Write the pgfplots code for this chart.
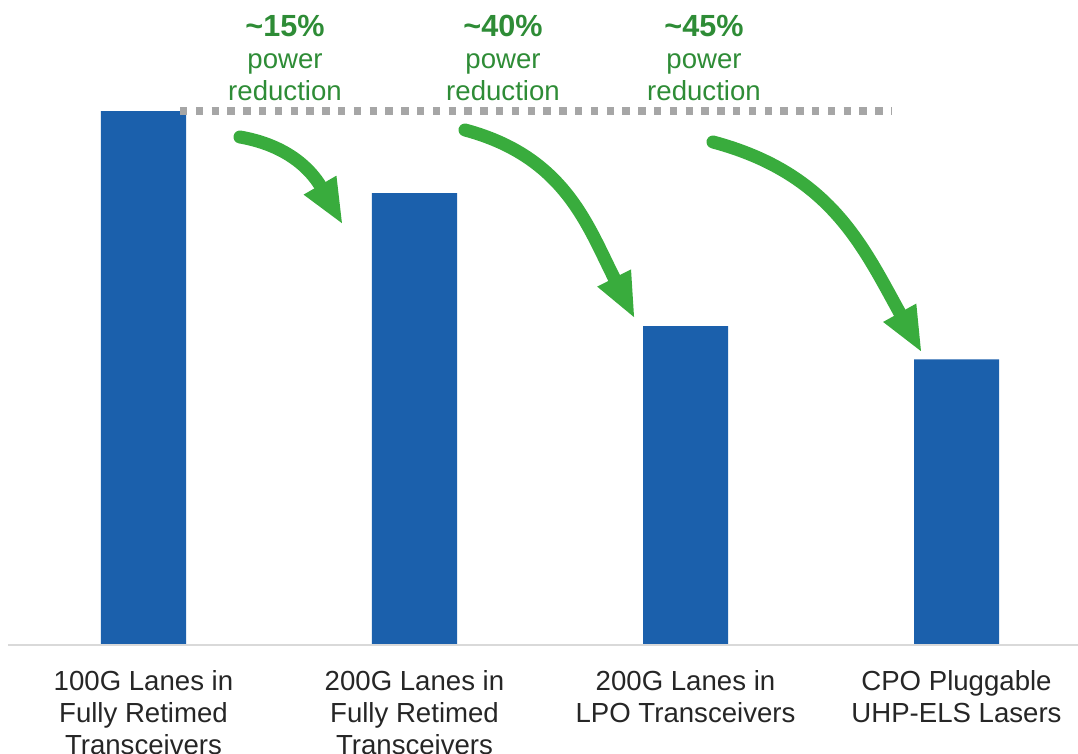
\documentclass[border=0pt]{standalone}
\usepackage{pgfplots}
\pgfplotsset{compat=1.18}
\usepackage{fontspec}
\setmainfont{Liberation Sans}
\usetikzlibrary{arrows.meta}

\definecolor{barblue}{RGB}{27,96,172}
\definecolor{arrowgreen}{RGB}{57,172,61}
\definecolor{textgreen}{RGB}{46,140,54}
\definecolor{dotgray}{RGB}{166,166,166}
\definecolor{basegray}{RGB}{217,217,217}
\definecolor{labelgray}{RGB}{38,38,38}

\begin{document}
\begin{tikzpicture}
% page frame: 539pt x 377pt, axis box sits on the baseline
\path[use as bounding box] (0,-54.5pt) rectangle (539pt,322.5pt);
\begin{axis}[
  at={(0,0)}, anchor=south west,
  scale only axis, width=539pt, height=322.5pt,
  xmin=-0.5295, xmax=3.4483, ymin=0, ymax=120.79,
  ybar, bar width=0.3137,
  axis line style={draw=none},
  ytick=\empty,
  xtick={0,1,2,3},
  xticklabels={{100G Lanes in\\Fully Retimed\\Transceivers},
               {200G Lanes in\\Fully Retimed\\Transceivers},
               {200G Lanes in\\LPO Transceivers},
               {CPO Pluggable\\UHP-ELS Lasers}},
  xticklabel style={align=center, text=labelgray,
    font=\fontsize{13.8}{16}\selectfont, yshift=-9pt},
  major tick length=0pt,
  clip=false,
]
\addplot[fill=barblue, draw=none] coordinates {(0,100) (1,84.6) (2,59.7) (3,53.5)};
% baseline
\draw[basegray, line width=1pt] (axis cs:-0.5,0) -- (axis cs:3.4483,0);
% reference level of the first bar
\draw[dotgray, line width=4.2pt, dash pattern=on 3.7pt off 4.2pt]
  (axis cs:0.1347,100) -- (axis cs:2.762,100);
\end{axis}

% annotations, in a pixel-style frame (x right, y down from the top edge)
\begin{scope}[x=0.5pt, y=-0.5pt, yshift=322.5pt]
  \tikzset{redarrow/.style={arrowgreen, line width=6.5pt, line cap=round,
      -{Triangle[length=23pt, width=17pt]}}}
  \draw[redarrow] (240,137) to[out=-10, in=120, looseness=1.05] (343,225);
  \draw[redarrow] (465,130) to[out=-15, in=117, looseness=1.05] (635,319);
  \draw[redarrow] (713,142) to[out=-15, in=119, looseness=1.05] (922,353);

  \foreach \cx/\pct in {285/15, 503/40, 704/45}{
    \node[anchor=base, inner sep=0, text=textgreen,
      font=\fontsize{15.3}{18}\selectfont\bfseries] at (\cx,37) {\textasciitilde\pct\%};
    \node[anchor=base, inner sep=0, text=textgreen,
      font=\fontsize{13.8}{16}\selectfont] at (\cx,69) {power};
    \node[anchor=base, inner sep=0, text=textgreen,
      font=\fontsize{13.8}{16}\selectfont] at (\cx,101) {reduction};
  }
\end{scope}
\end{tikzpicture}
\end{document}
